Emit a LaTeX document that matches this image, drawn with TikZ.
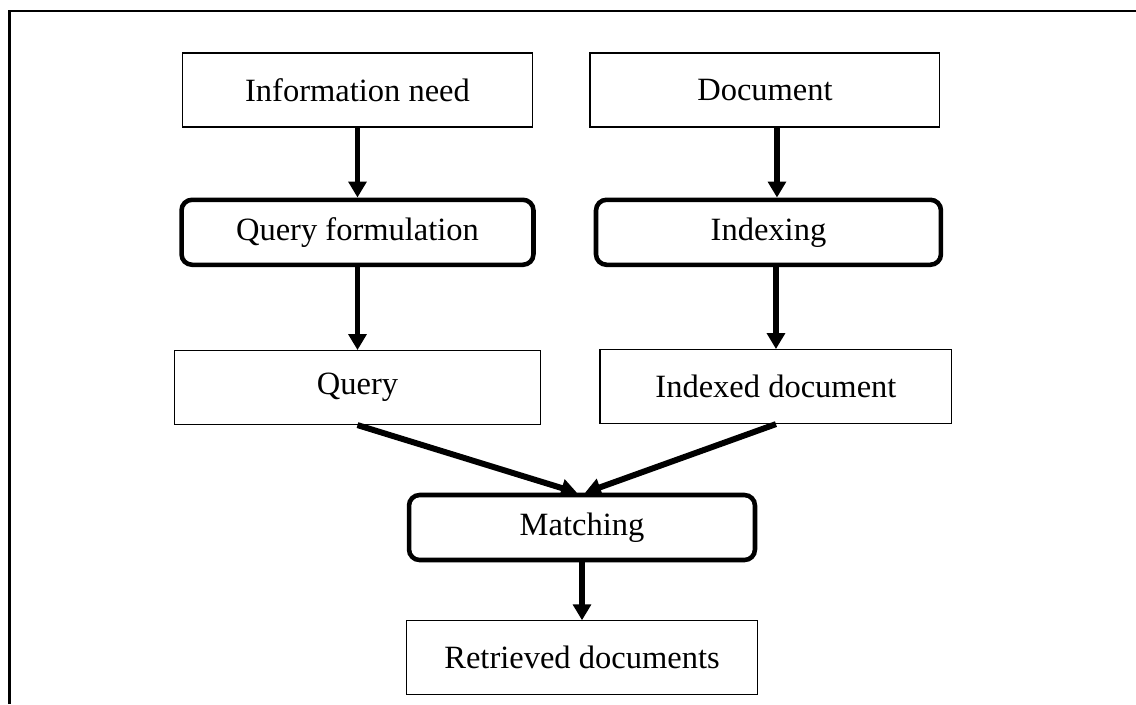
\documentclass[tikz,border=0pt]{standalone}
\usepackage{fontspec}
\setmainfont{Liberation Serif}
\usepackage{tikz}
\usetikzlibrary{positioning,arrows.meta}

\tikzset{
  plainbox/.style={draw, line width=0.6pt, minimum height=1.48cm, inner sep=0pt, font=\fontsize{18.5}{22}\selectfont},
  procbox/.style={draw, line width=2.6pt, rounded corners=6pt, minimum height=1.3cm, inner sep=0pt, font=\fontsize{18.5}{22}\selectfont},
  flow/.style={-{Triangle[length=9pt,width=10pt]}, line width=3.4pt},
}

\begin{document}
\begin{tikzpicture}[x=0.02cm, y=-0.02cm]

            \useasboundingbox (0,0) rectangle (1136,704);

            % Frame

            \draw[line width=1.6pt] (9.5,704) -- (9.5,11) -- (1136,11);

            % Nodes

            \node[plainbox, minimum width=7.02cm] (info) at (357.5,90) {Information need};
            \node[plainbox, minimum width=7.0cm, right=1.12cm of info] (doc) {Document};
            \node[procbox, minimum width=7.04cm, below=1.4cm of info] (qform) {Query formulation};
            \node[procbox, minimum width=6.9cm, below=1.4cm of doc, xshift=0.07cm] (index) {Indexing};
            \node[plainbox, minimum width=7.32cm, below=1.66cm of qform] (query) {Query};
            \node[plainbox, minimum width=7.04cm, below=1.64cm of index, xshift=0.15cm] (idoc) {Indexed document};
            \node[procbox, minimum width=6.92cm] (match) at (582,527.5) {Matching};
            \node[plainbox, minimum width=7.02cm, below=1.16cm of match] (retr) {Retrieved documents};

            % Edges

            \draw[flow] (info.south) -- (info.south |- qform.north);
            \draw[flow] ([xshift=0.24cm]doc.south) -- ([xshift=0.24cm]doc.south |- index.north);
            \draw[flow] (query.north |- qform.south) -- (query.north);
            \draw[flow] (idoc.north |- index.south) -- (idoc.north);
            \draw[flow] (query.south) -- ([xshift=-0.1cm]match.north);
            \draw[flow] (idoc.south) -- ([xshift=0.06cm]match.north);
            \draw[flow] (retr.north |- match.south) -- (retr.north);

\end{tikzpicture}
\end{document}
